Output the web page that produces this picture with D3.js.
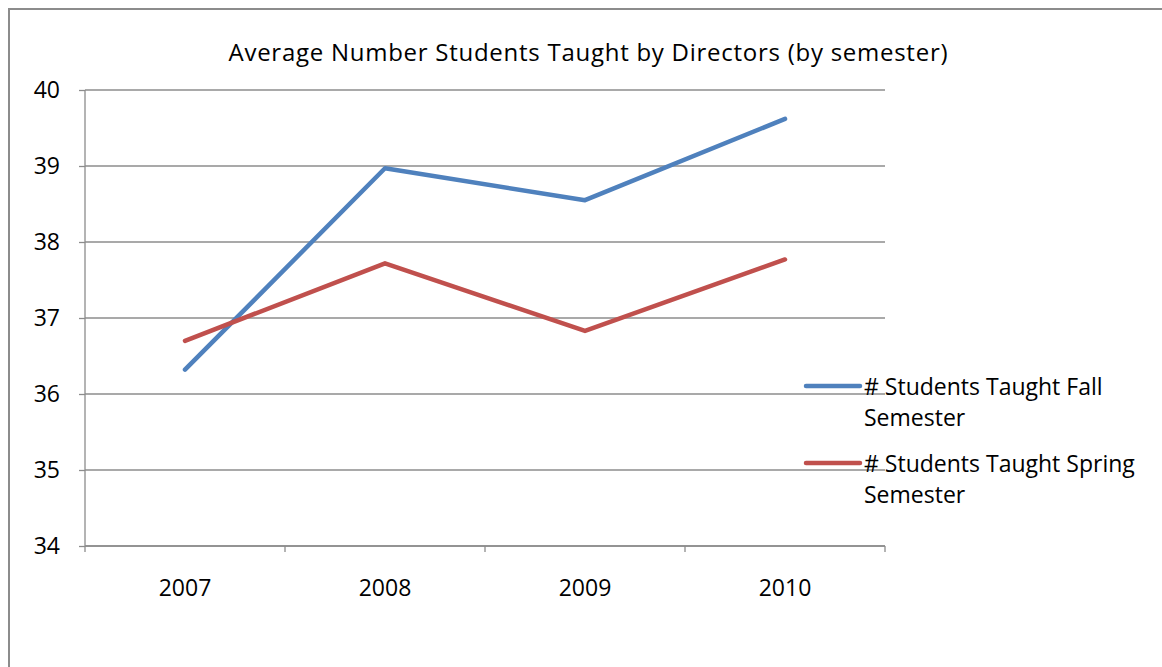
<!DOCTYPE html>
<html>
<head>
<meta charset="utf-8">
<script src="https://cdn.jsdelivr.net/npm/d3@7"></script>
<style>
  body { margin: 0; background: #fff; }
  svg text { font-family: "Open Sans", "Noto Sans", sans-serif; fill: #000; }
</style>
</head>
<body>
<div id="chart"></div>
<script>
// chart data
var years = ["2007", "2008", "2009", "2010"];
var fallValues = [36.32, 38.97, 38.55, 39.62];
var springValues = [36.70, 37.72, 36.83, 37.77];
var seriesNames = ["# Students Taught Fall Semester", "# Students Taught Spring Semester"];
var yTicks = [34, 35, 36, 37, 38, 39, 40];

var width = 1162;
var height = 667;
var plot = { left: 85, right: 885, top: 90, bottom: 546 };

var svg = d3.select("#chart").append("svg")
  .attr("width", width)
  .attr("height", height);

// outer frame
svg.append("rect")
  .attr("x", 9).attr("y", 9)
  .attr("width", width).attr("height", height)
  .attr("fill", "none")
  .attr("stroke", "#8c8c8c")
  .attr("stroke-width", 2);

// scales
var x = d3.scaleBand().domain(years).range([plot.left, plot.right]);
var y = d3.scaleLinear().domain([34, 40]).range([plot.bottom, plot.top]);

// gridlines
svg.append("g")
  .selectAll("line")
  .data(yTicks)
  .join("line")
  .attr("x1", plot.left).attr("x2", plot.right)
  .attr("y1", function (d) { return y(d); })
  .attr("y2", function (d) { return y(d); })
  .attr("stroke", "#8c8c8c")
  .attr("stroke-width", 1.3);

// y axis
var yAxis = svg.append("g")
  .attr("transform", "translate(" + plot.left + ",0)")
  .call(d3.axisLeft(y).tickValues(yTicks).tickFormat(d3.format("d")).tickSize(6).tickPadding(19));
yAxis.selectAll("line, path").attr("stroke", "#8c8c8c").attr("stroke-width", 1.3);
yAxis.select(".domain").attr("d", "M0," + plot.top + "V" + plot.bottom);
yAxis.selectAll("text").style("font-size", "23px").style("font-family", null);

// x axis with ticks between categories
var xEdges = years.map(function (d) { return x(d); }).concat([plot.right]);
var xAxis = svg.append("g")
  .attr("transform", "translate(0," + plot.bottom + ")");
xAxis.append("line")
  .attr("x1", plot.left).attr("x2", plot.right)
  .attr("stroke", "#8c8c8c").attr("stroke-width", 1.3);
xAxis.selectAll(".tick")
  .data(xEdges)
  .join("line")
  .attr("x1", function (d) { return d; })
  .attr("x2", function (d) { return d; })
  .attr("y1", 0).attr("y2", 6)
  .attr("stroke", "#8c8c8c").attr("stroke-width", 1.3);
xAxis.selectAll("text")
  .data(years)
  .join("text")
  .attr("x", function (d) { return x(d) + x.bandwidth() / 2; })
  .attr("y", 50)
  .attr("text-anchor", "middle")
  .style("font-size", "23px")
  .text(function (d) { return d; });

// lines
var line = d3.line()
  .x(function (d, i) { return x(years[i]) + x.bandwidth() / 2; })
  .y(function (d) { return y(d); });

var series = [
  { name: seriesNames[0], values: fallValues, color: "#4f81bd" },
  { name: seriesNames[1], values: springValues, color: "#c0504d" }
];

svg.append("g")
  .selectAll("path")
  .data(series)
  .join("path")
  .attr("d", function (d) { return line(d.values); })
  .attr("fill", "none")
  .attr("stroke", function (d) { return d.color; })
  .attr("stroke-width", 4.5)
  .attr("stroke-linecap", "round")
  .attr("stroke-linejoin", "round");

// title
svg.append("text")
  .attr("x", 588).attr("y", 61)
  .attr("text-anchor", "middle")
  .attr("textLength", 719)
  .attr("lengthAdjust", "spacing")
  .style("font-size", "24px")
  .text("Average Number Students Taught by Directors (by semester)");

// legend
var legend = svg.append("g")
  .selectAll("g")
  .data(series)
  .join("g")
  .attr("transform", function (d, i) { return "translate(806," + (386 + i * 77) + ")"; });

legend.append("line")
  .attr("x1", 0).attr("x2", 54)
  .attr("stroke", function (d) { return d.color; })
  .attr("stroke-width", 4.5)
  .attr("stroke-linecap", "round");

legend.append("text")
  .attr("x", 58).attr("y", 9)
  .style("font-size", "23px")
  .text(function (d) { return d.name.replace(" Semester", ""); });

legend.append("text")
  .attr("x", 58).attr("y", 40)
  .style("font-size", "23px")
  .text("Semester");
</script>
</body>
</html>
